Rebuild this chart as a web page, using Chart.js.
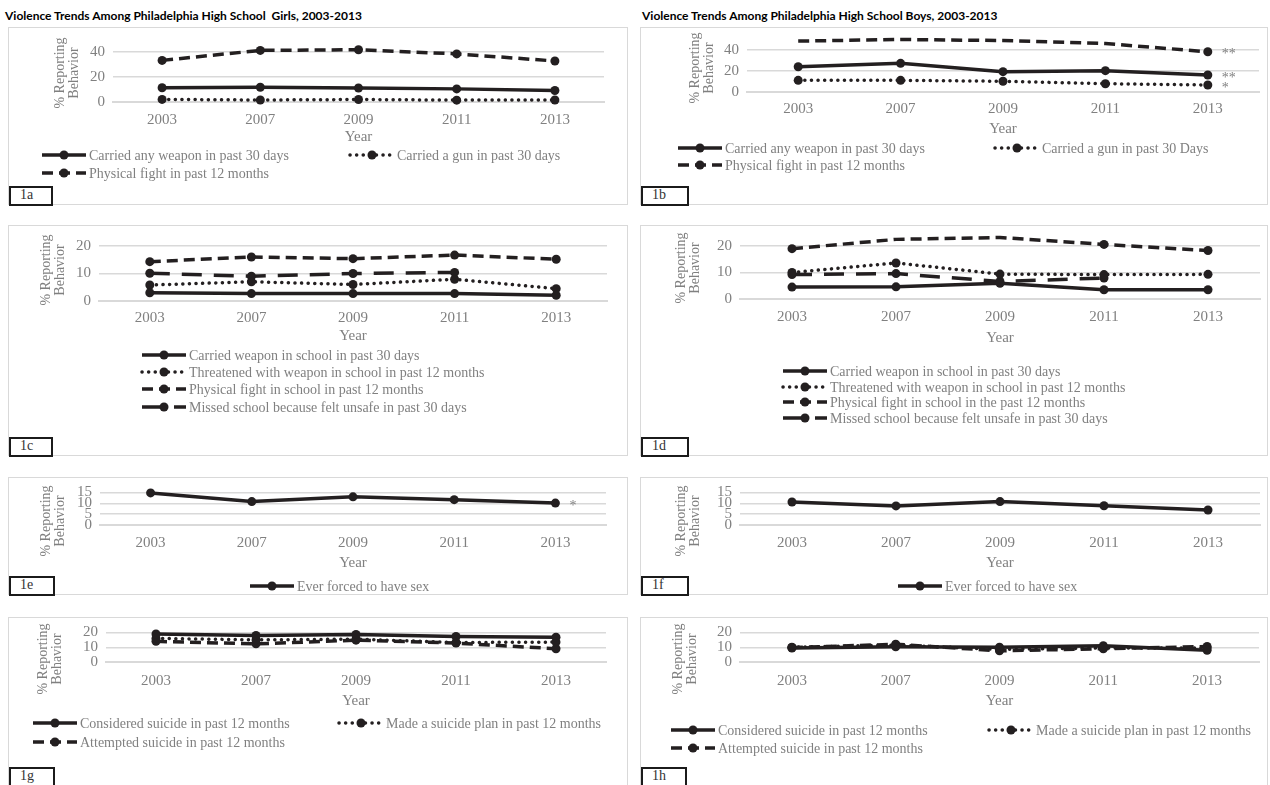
<!DOCTYPE html>
<html>
<head>
<meta charset="utf-8">
<script src="https://cdn.jsdelivr.net/npm/chart.js@4.4.0/dist/chart.umd.min.js"></script>
<style>
  body { margin: 0; background: #fff; width: 1270px; height: 785px; overflow: hidden; position: relative; }
  .title { position: absolute; top: 8px; font: bold 12px "Liberation Sans Narrow", "Lato", sans-serif; color: #000; white-space: pre; }
  .panel { position: absolute; border: 1px solid #d9d9d9; box-sizing: border-box; }
  canvas { position: absolute; }
  .tag { position: absolute; box-sizing: border-box; border: 2.5px solid #1b1b1b; background: #fff;
         font: 14px "Liberation Serif", serif; color: #333; padding-left: 9px; line-height: 14px; }
</style>
</head>
<body>
<div class="title" style="left:5px">Violence Trends Among Philadelphia High School  Girls, 2003-2013</div>
<div class="title" style="left:642px">Violence Trends Among Philadelphia High School Boys, 2003-2013</div>
<div id="root"></div>
<script>
const years = ["2003", "2007", "2009", "2011", "2013"];

const ticks40 = [0, 20, 40];
const ticks20 = [0, 10, 20];
const ticks15 = [0, 5, 10, 15];
const yTitle = ["% Reporting", "Behavior"];

// 1a girls / 1b boys
const weaponLabels = ["Carried any weapon in past 30 days", "Carried a gun in past 30 days", "Physical fight in past 12 months"];
const weaponLabelsBoys = ["Carried any weapon in past 30 days", "Carried a gun in past 30 Days", "Physical fight in past 12 months"];
const girlsAnyWeapon = [11.4, 11.8, 11.2, 10.5, 9.2];
const girlsGun = [2.1, 1.6, 2.0, 1.5, 1.6];
const girlsFight = [33.3, 41.3, 41.8, 38.5, 32.8];
const boysAnyWeapon = [24.1, 27.3, 19.4, 20.3, 16.2];
const boysGun = [11.1, 11.1, 10.2, 7.9, 6.7];
const boysFight = [48.5, 50.0, 49.0, 46.2, 38.3];
const boysNotes = ["**", "*", "**"];

// 1c girls / 1d boys
const schoolLabelsGirls = ["Carried weapon in school in past 30 days", "Threatened with weapon in school in past 12 months",
  "Physical fight in school in past 12 months", "Missed school because felt unsafe in past 30 days"];
const schoolLabelsBoys = ["Carried weapon in school in past 30 days", "Threatened with weapon in school in past 12 months",
  "Physical fight in school in the past 12 months", "Missed school because felt unsafe in past 30 days"];
const girlsSchoolWeapon = [3.0, 2.7, 2.7, 2.7, 2.1];
const girlsThreatened = [5.8, 7.0, 6.0, 7.9, 4.5];
const girlsSchoolFight = [14.3, 16.0, 15.4, 16.7, 15.2];
const girlsMissed = [10.1, 9.0, 10.0, 10.4, null];
const boysSchoolWeapon = [4.5, 4.6, 5.9, 3.5, 3.5];
const boysThreatened = [10.0, 13.6, 9.4, 9.2, 9.3];
const boysSchoolFight = [19.0, 22.5, 23.2, 20.6, 18.3];
const boysMissed = [9.2, 9.6, 6.6, 7.9, null];

// 1e girls / 1f boys
const forcedLabel = ["Ever forced to have sex"];
const girlsForced = [14.8, 10.8, 13.0, 11.7, 10.1];
const boysForced = [10.6, 8.8, 10.8, 8.9, 6.9];
const girlsForcedNotes = ["*"];

// 1g girls / 1h boys
const suicideLabels = ["Considered suicide in past 12 months", "Made a suicide plan in past 12 months", "Attempted suicide in past 12 months"];
const girlsConsidered = [19.0, 18.0, 18.7, 17.3, 16.8];
const girlsPlan = [16.0, 15.0, 15.5, 13.2, 13.5];
const girlsAttempted = [14.0, 12.3, 14.8, 12.8, 9.0];
const boysConsidered = [9.5, 10.3, 10.0, 11.0, 8.0];
const boysPlan = [10.0, 11.5, 8.5, 9.5, 9.5];
const boysAttempted = [9.8, 12.0, 7.6, 9.0, 10.5];

const INK = "#231f20";
const GREY = "#808080";
const SERIF = "'Liberation Serif', serif";
const SOLID = { borderDash: [], borderCapStyle: "butt" };
const DOT = { borderDash: [0.1, 6.5], borderCapStyle: "round" };
const DASH = { borderDash: [11, 6], borderCapStyle: "butt" };
const LONG = { borderDash: [20, 12], borderCapStyle: "butt" };

Chart.defaults.font.family = SERIF;

function series(label, data, style) {
  return Object.assign({
    label, data,
    borderColor: INK, backgroundColor: INK,
    pointBackgroundColor: INK, pointBorderColor: INK,
    borderWidth: 3.5, pointRadius: 4.5, pointBorderWidth: 0,
    tension: 0, clip: false, spanGaps: false
  }, style);
}

// Excel style legend entries (line sample + marker, grey text) and the rotated axis title
const excelLegend = {
  id: "excelLegend",
  afterDraw(chart, args, opts) {
    const ctx = chart.ctx;
    (opts.items || []).forEach(it => {
      const ds = chart.data.datasets[it.ds];
      const x0 = it.x - opts.ox, y = it.y - opts.oy, w = opts.w;
      ctx.save();
      ctx.strokeStyle = ds.borderColor;
      ctx.lineWidth = ds.borderWidth;
      ctx.setLineDash(ds.borderDash);
      ctx.lineCap = ds.borderCapStyle;
      ctx.beginPath();
      ctx.moveTo(x0, y);
      ctx.lineTo(x0 + w, y);
      ctx.stroke();
      ctx.setLineDash([]);
      ctx.fillStyle = ds.pointBackgroundColor;
      ctx.beginPath();
      ctx.arc(x0 + w / 2, y, ds.pointRadius, 0, Math.PI * 2);
      ctx.fill();
      ctx.fillStyle = GREY;
      ctx.font = "14px " + SERIF;
      ctx.textBaseline = "middle";
      ctx.textAlign = "left";
      ctx.fillText(ds.label, x0 + w + 3, y + 1);
      ctx.restore();
    });
    if (opts.yTitle) {
      const t = opts.yTitle;
      ctx.save();
      ctx.translate(t.x - opts.ox, t.y - opts.oy);
      ctx.rotate(-Math.PI / 2);
      ctx.fillStyle = GREY;
      ctx.font = "14px " + SERIF;
      ctx.textAlign = "center";
      ctx.textBaseline = "middle";
      yTitle.forEach((line, i) => ctx.fillText(line, 0, i * 14.5));
      ctx.restore();
    }
  }
};

// significance asterisks next to the last point of a series
const pointNotes = {
  id: "pointNotes",
  afterDatasetsDraw(chart, args, opts) {
    const ctx = chart.ctx;
    (opts.marks || []).forEach(m => {
      const pts = chart.getDatasetMeta(m.ds).data;
      const el = pts[pts.length - 1];
      ctx.save();
      ctx.fillStyle = GREY;
      ctx.font = "14px " + SERIF;
      ctx.textBaseline = "middle";
      ctx.textAlign = "left";
      ctx.fillText(m.text, el.x + 14, el.y + 3);
      ctx.restore();
    });
  }
};

const root = document.getElementById("root");

function build(g, ticks, datasets, legendItems, marks) {
  const [bl, bt, br, bb] = g.box;
  const [pl, pt, pr, pb] = g.plot;
  const w = br - bl, h = bb - bt;

  const panel = document.createElement("div");
  panel.className = "panel";
  Object.assign(panel.style, { left: bl + "px", top: bt + "px", width: w + "px", height: h + "px" });
  root.appendChild(panel);

  const cv = document.createElement("canvas");
  cv.width = w; cv.height = h;
  Object.assign(cv.style, { left: bl + "px", top: bt + "px", width: w + "px", height: h + "px" });
  root.appendChild(cv);

  const tag = document.createElement("div");
  tag.className = "tag";
  tag.textContent = g.tag[0];
  Object.assign(tag.style, { left: g.tag[1] + "px", top: g.tag[2] + "px", width: g.tag[3] + "px", height: g.tag[4] + "px" });
  root.appendChild(tag);

  const yLeft = g.yt[0] - 8;
  const yWidth = pl - yLeft;
  const xHeight = g.year + 9 - pb;

  new Chart(cv, {
    type: "line",
    data: { labels: years, datasets },
    options: {
      responsive: false,
      animation: false,
      layout: { padding: { left: yLeft - bl, right: br - pr, top: pt - bt, bottom: h - (pb - bt) - xHeight } },
      plugins: {
        legend: { display: false },
        tooltip: { enabled: false },
        excelLegend: { items: legendItems, ox: bl, oy: bt, w: 44, yTitle: { x: g.yt[0], y: g.yt[1] } },
        pointNotes: { marks: marks || [] }
      },
      scales: {
        x: {
          offset: true,
          grid: { display: false, drawTicks: false },
          border: { display: true, color: "#d9d9d9", width: 2 },
          ticks: { color: GREY, font: { size: 15 }, padding: g.tick - pb - 9 },
          title: { display: true, text: "Year", color: GREY, font: { size: 15, lineHeight: 1.2 }, padding: 0 },
          afterFit(s) { s.height = xHeight; }
        },
        y: {
          min: ticks[0],
          max: ticks[ticks.length - 1],
          grid: { color: "#d9d9d9", lineWidth: 1.5, drawTicks: false },
          border: { display: false },
          ticks: { stepSize: ticks[1] - ticks[0], autoSkip: false, color: GREY, font: { size: 15, lineHeight: 1 }, padding: 8 },
          afterBuildTicks(s) { s.ticks = ticks.map(v => ({ value: v })); },
          afterFit(s) { s.width = yWidth; }
        }
      }
    },
    plugins: [excelLegend, pointNotes]
  });
}

// 1a
build({ box: [8, 27, 628, 205], plot: [113, 52, 604, 102], yt: [60, 73], tick: 120, year: 137, tag: ["1a", 9, 186, 44, 20] },
  ticks40,
  [series(weaponLabels[0], girlsAnyWeapon, SOLID), series(weaponLabels[1], girlsGun, DOT), series(weaponLabels[2], girlsFight, DASH)],
  [{ ds: 0, x: 42, y: 155 }, { ds: 1, x: 350, y: 155 }, { ds: 2, x: 42, y: 173 }]);

// 1b
build({ box: [640, 27, 1268, 205], plot: [747, 50, 1259, 92], yt: [695, 68], tick: 109, year: 129, tag: ["1b", 641, 186, 48, 20] },
  ticks40,
  [series(weaponLabelsBoys[0], boysAnyWeapon, SOLID), series(weaponLabelsBoys[1], boysGun, DOT), series(weaponLabelsBoys[2], boysFight, DASH)],
  [{ ds: 0, x: 678, y: 148 }, { ds: 1, x: 995, y: 148 }, { ds: 2, x: 678, y: 165 }],
  boysNotes.map((t, i) => ({ ds: i, text: t })));

// 1c
build({ box: [8, 225, 628, 456], plot: [99, 246, 607, 301], yt: [46, 270], tick: 318, year: 336, tag: ["1c", 9, 437, 44, 20] },
  ticks20,
  [series(schoolLabelsGirls[0], girlsSchoolWeapon, SOLID), series(schoolLabelsGirls[1], girlsThreatened, DOT),
   series(schoolLabelsGirls[2], girlsSchoolFight, DASH), series(schoolLabelsGirls[3], girlsMissed, LONG)],
  [{ ds: 0, x: 142, y: 355 }, { ds: 1, x: 142, y: 372 }, { ds: 2, x: 142, y: 389 }, { ds: 3, x: 142, y: 407 }]);

// 1d
build({ box: [640, 225, 1268, 456], plot: [740, 246, 1260, 299], yt: [681, 268], tick: 317, year: 338, tag: ["1d", 641, 437, 48, 20] },
  ticks20,
  [series(schoolLabelsBoys[0], boysSchoolWeapon, SOLID), series(schoolLabelsBoys[1], boysThreatened, DOT),
   series(schoolLabelsBoys[2], boysSchoolFight, DASH), series(schoolLabelsBoys[3], boysMissed, LONG)],
  [{ ds: 0, x: 783, y: 371 }, { ds: 1, x: 783, y: 387 }, { ds: 2, x: 783, y: 402 }, { ds: 3, x: 783, y: 418 }]);

// 1e
build({ box: [8, 477, 628, 595], plot: [100, 485, 606, 525], yt: [46, 521], tick: 543, year: 563, tag: ["1e", 9, 576, 46, 20] },
  ticks15,
  [series(forcedLabel[0], girlsForced, SOLID)],
  [{ ds: 0, x: 250, y: 586 }],
  girlsForcedNotes.map(t => ({ ds: 0, text: t })));

// 1f
build({ box: [640, 477, 1268, 595], plot: [740, 485, 1260, 525], yt: [681, 521], tick: 543, year: 563, tag: ["1f", 641, 576, 48, 20] },
  ticks15,
  [series(forcedLabel[0], boysForced, SOLID)],
  [{ ds: 0, x: 898, y: 586 }]);

// 1g
build({ box: [8, 617, 628, 800], plot: [106, 624, 606, 662], yt: [43, 659], tick: 681, year: 701, tag: ["1g", 9, 767, 46, 22] },
  ticks20,
  [series(suicideLabels[0], girlsConsidered, SOLID), series(suicideLabels[1], girlsPlan, DOT), series(suicideLabels[2], girlsAttempted, DASH)],
  [{ ds: 0, x: 33, y: 723 }, { ds: 1, x: 339, y: 723 }, { ds: 2, x: 33, y: 742 }]);

// 1h
build({ box: [640, 617, 1268, 800], plot: [740, 624, 1259, 662], yt: [678, 659], tick: 681, year: 701, tag: ["1h", 641, 767, 46, 22] },
  ticks20,
  [series(suicideLabels[0], boysConsidered, SOLID), series(suicideLabels[1], boysPlan, DOT), series(suicideLabels[2], boysAttempted, DASH)],
  [{ ds: 0, x: 671, y: 730 }, { ds: 1, x: 989, y: 730 }, { ds: 2, x: 671, y: 748 }]);
</script>
</body>
</html>
